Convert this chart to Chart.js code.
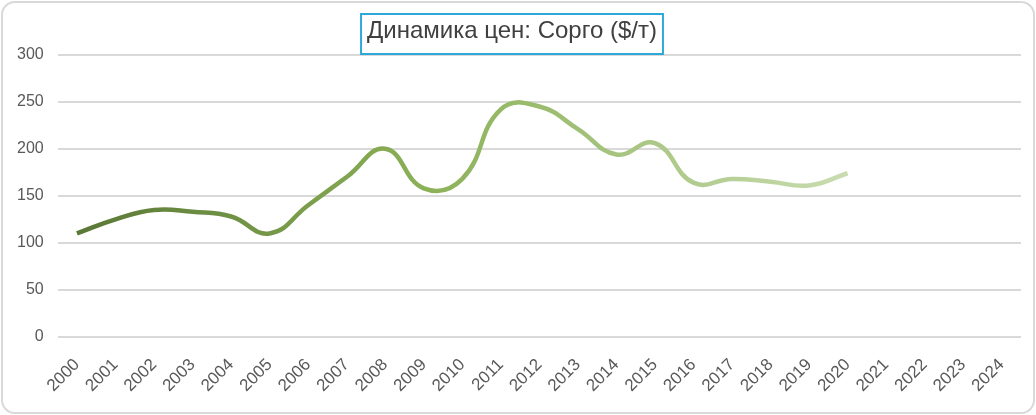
<!DOCTYPE html>
<html>
<head>
<meta charset="utf-8">
<script src="https://cdn.jsdelivr.net/npm/chart.js@4"></script>
<style>
  html, body { margin: 0; padding: 0; background: #fff; }
  #wrap {
    position: absolute; left: 1px; top: 1px; width: 1030px; height: 409px;
    border: 2px solid #d9d9d9; border-radius: 14px; overflow: hidden;
  }
  canvas { display: block; }
</style>
</head>
<body>
<div id="wrap"><canvas id="myChart" width="1030" height="409"></canvas></div>
<script>
const years = ['2000','2001','2002','2003','2004','2005','2006','2007','2008','2009','2010','2011','2012',
   '2013','2014','2015','2016','2017','2018','2019','2020','2021','2022','2023','2024'];
const prices = [110, 125, 135, 133, 128, 110, 140, 170, 200, 158, 168, 242, 245, 221, 194, 206, 164, 168, 165, 161, 174];
const yTicks = [0, 50, 100, 150, 200, 250, 300];
const titleText = 'Динамика цен: Сорго ($/т)';

const fontFamily = "'Liberation Sans', Arial, sans-serif";

// рамка вокруг заголовка
const titleBox = {
   id: 'titleBox',
   afterDraw(chart) {
      const t = chart.titleBlock;
      const c = chart.ctx;
      c.save();
      c.font = '24px ' + fontFamily;
      const w = c.measureText(titleText).width;
      const cx = t.left + t.width / 2;
      c.strokeStyle = '#2ea8d8';
      c.lineWidth = 2;
      c.strokeRect(cx - w / 2 - 6, 11, w + 12, 40);
      c.restore();
   }
};

const ctx = document.getElementById('myChart').getContext('2d');
const myChart = new Chart(ctx, {
   type: 'line',
   data: {
      labels: years,
      datasets: [{
         label: 'Сорго',
         data: prices,
         borderColor: function(context) {
            const chart = context.chart;
            const area = chart.chartArea;
            if (!area) return '#8db356';
            const xs = chart.scales.x;
            const x0 = xs.getPixelForValue(0);
            const x1 = xs.getPixelForValue(prices.length - 1);
            const g = chart.ctx.createLinearGradient(x0, 0, x1, 0);
            g.addColorStop(0, '#5a7836');
            g.addColorStop(0.45, '#8bb157');
            g.addColorStop(0.7, '#a6c47f');
            g.addColorStop(1, '#c9dcb0');
            return g;
         },
         borderWidth: 4.5,
         pointRadius: 0,
         tension: 0.45,
         fill: false
      }]
   },
   options: {
      responsive: false,
      animation: false,
      layout: { padding: { left: 0, right: 12, top: 0, bottom: 6 } },
      plugins: {
         legend: { display: false },
         tooltip: { enabled: false },
         title: {
            display: true,
            text: titleText,
            color: '#404040',
            font: { family: fontFamily, size: 24, weight: 'normal' },
            padding: { top: 14, bottom: 9 }
         }
      },
      scales: {
         x: {
            offset: true,
            grid: { display: false },
            border: { display: false },
            ticks: {
               color: '#595959',
               font: { family: fontFamily, size: 17 },
               maxRotation: 45,
               minRotation: 45,
               autoSkip: false,
               padding: 10
            }
         },
         y: {
            min: 0,
            max: 300,
            afterBuildTicks(scale) {
               scale.ticks = yTicks.map(v => ({ value: v }));
            },
            grid: { color: '#d9d9d9', lineWidth: 2, drawTicks: false },
            border: { display: false },
            ticks: {
               color: '#595959',
               font: { family: fontFamily, size: 16 },
               padding: 14
            }
         }
      }
   },
   plugins: [titleBox]
});
</script>
</body>
</html>
